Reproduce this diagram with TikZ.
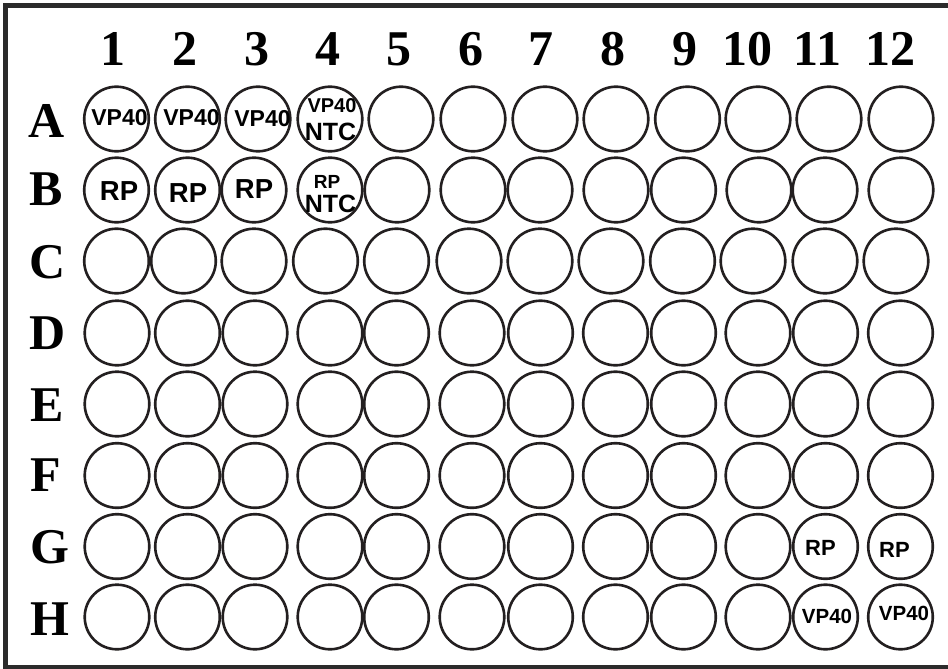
\documentclass[tikz,border=0pt]{standalone}
\usepackage{fontspec}
\setmainfont{Liberation Serif}
\newfontfamily\wellfont{Liberation Sans}
\definecolor{ink}{HTML}{231F20}
\definecolor{framecol}{HTML}{2B2B2B}
\begin{document}
\begin{tikzpicture}[x=1pt,y=-1pt,
  well/.style={circle,draw=ink,line width=2.6pt,minimum size=64.6pt,inner sep=0pt},
  hdr/.style={anchor=base,inner sep=0pt,text=black,font=\fontsize{50}{50}\selectfont\bfseries},
  lbl/.style={anchor=base,inner sep=0pt,text=black,font=\wellfont\bfseries\fontsize{#1}{#1}\selectfont},
]
\useasboundingbox (0,0) rectangle (948,669);
\fill[white] (0,0) rectangle (948,669);
\draw[framecol,line width=5pt] (960,5.8) -- (5.8,5.8) -- (5.8,667.5) -- (960,667.5);

% column headers
\foreach \x/\t [count=\i] in {113/1,185/2,256.5/3,327.5/4,398.5/5,470.5/6,541/7,612.5/8,684.5/9,747/10,817.5/11,890.5/12}
  \node[hdr] (col\i) at (\x,66) {\t};

% row labels
\foreach \x/\y/\t in {47/137/A,46/205/B,48/278.5/C,47.5/349/D,47/421/E,45.5/491/F,49.5/563/G,49.5/635/H}
  \node[hdr] (row\t) at (\x,\y) {\t};

% wells
\foreach \r/\y/\xs in {
  A/119/{116.5,187.5,258,330,401,473,545,616,687.5,758,829,901},
  B/190/{116.5,187.5,254,330,397,473,540,616,683.5,759,825,901},
  C/261/{116.5,183.5,254,325.5,396.5,469,540,611,682.5,753,825,896},
  D/333/{117,187.5,255,330,396.5,472,540.5,615.5,683.5,758,825.5,900.5},
  E/404/{117,187.5,255,330,396.5,472,540.5,615.5,683.5,758,825.5,900.5},
  F/475.5/{117,187.5,255,330,396.5,472,540.5,615.5,683.5,758,825.5,900.5},
  G/546.5/{117,187.5,255,330,396.5,472,540.5,615.5,683.5,758,825.5,900.5},
  H/617/{117,187.5,255,330,396.5,472,540.5,615.5,683.5,758,825.5,900.5}}
{
  \foreach \x [count=\c] in \xs
    \node[well] (w\r\c) at (\x,\y) {};
}

% well contents
\node[lbl=23] (tA1) at (119.5,125) {VP40};
\node[lbl=23] (tA2) at (191.5,125) {VP40};
\node[lbl=23] (tA3) at (262.5,126) {VP40};
\node[lbl=20] (tA4a) at (332,113) {VP40};
\node[lbl=25] (tA4b) at (330.5,140) {NTC};
\node[lbl=27.5] (tB1) at (119,200) {RP};
\node[lbl=27.5] (tB2) at (188,202) {RP};
\node[lbl=27.5] (tB3) at (254,198) {RP};
\node[lbl=19] (tB4a) at (327,188) {RP};
\node[lbl=25] (tB4b) at (330.5,212) {NTC};
\node[lbl=22] (tG11) at (820.5,555) {RP};
\node[lbl=22] (tG12) at (894.5,557) {RP};
\node[lbl=20.5] (tH11) at (827,623) {VP40};
\node[lbl=20.5] (tH12) at (904,620) {VP40};
\end{tikzpicture}
\end{document}
